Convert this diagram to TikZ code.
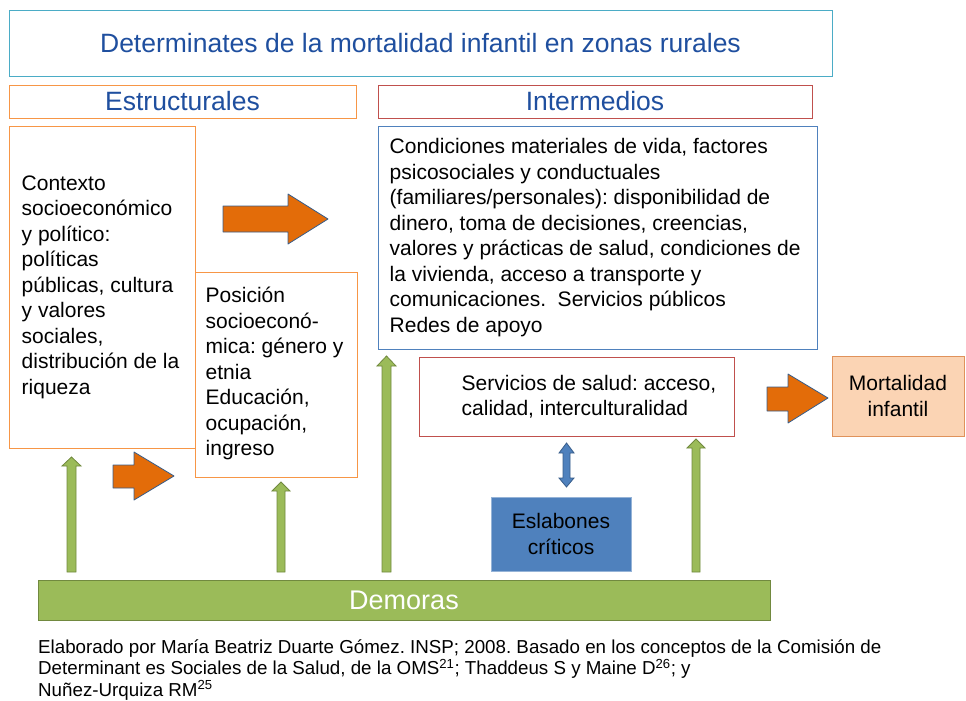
\documentclass[tikz,border=0pt]{standalone}
\usepackage{fontspec}
\setmainfont{Liberation Sans}
\usepackage{tikz}
\usetikzlibrary{positioning}
\definecolor{cielo}{HTML}{4BACC6}
\definecolor{tituloazul}{HTML}{1F4F9F}
\definecolor{naranja}{HTML}{F79646}
\definecolor{rojo}{HTML}{C0504D}
\definecolor{azul}{HTML}{4F81BD}
\definecolor{azulclaro}{HTML}{95B3D7}
\definecolor{contorno}{HTML}{385D8A}
\definecolor{flecha}{HTML}{E36C09}
\definecolor{verde}{HTML}{9BBB59}
\definecolor{verdeosc}{HTML}{71893F}
\definecolor{durazno}{HTML}{FBD4B4}
\definecolor{duraznobd}{HTML}{E0925B}
\frenchspacing

\begin{document}
\begin{tikzpicture}[x=1pt,y=-1pt,
    caja/.style={draw, line width=1pt, fill=white, inner sep=0pt},
    cuerpo/.style={font=\fontsize{21}{25.5}\selectfont, align=left, inner sep=0pt},
    encabezado/.style={font=\fontsize{26.5}{30}\selectfont, text=tituloazul},
    flechanar/.style={fill=flecha, draw=contorno, line width=0.8pt, line join=round},
    flechaver/.style={fill=verde, draw=verdeosc, line width=0.8pt},
    flechaazu/.style={fill=azul, draw=contorno, line width=0.8pt}]
    \useasboundingbox (0,0) rectangle (966,701);

    % encabezados
    \node[caja, draw=cielo, encabezado, minimum width=823pt, minimum height=65pt] (titulo) at (420.5,43.5)
        {Determinates de la mortalidad infantil en zonas rurales};
    \node[caja, draw=naranja, encabezado, minimum width=347pt, minimum height=33pt] (estr) at (182.5,101.5) {Estructurales};
    \node[caja, draw=rojo, encabezado, minimum width=434pt, minimum height=33pt] (inter) at (595,101.5) {Intermedios};

    % determinantes estructurales
    \node[caja, draw=naranja, minimum width=186pt, minimum height=322pt] (contexto) at (102,287) {};
    \node[cuerpo, anchor=west] (contexto-txt) at ([xshift=13pt]contexto.west)
        {Contexto\\ socioeconómico\\ y político:\\ políticas\\ públicas, cultura\\ y valores\\ sociales,\\ distribución de la\\ riqueza};
    \node[caja, draw=naranja, minimum width=162pt, minimum height=205pt] (posicion) at (276,374.5) {};
    \node[cuerpo, anchor=west] (posicion-txt) at ([xshift=11pt, yshift=1pt]posicion.west)
        {Posición\\ socioeconó-\\ mica: género y\\ etnia\\ Educación,\\ ocupación,\\ ingreso};

    % determinantes intermedios
    \node[caja, draw=azul, minimum width=439pt, minimum height=223pt] (condiciones) at (597.5,237.5) {};
    \node[cuerpo, anchor=west] (condiciones-txt) at ([xshift=12pt]condiciones.west)
        {Condiciones materiales de vida, factores\\ psicosociales y conductuales\\ (familiares/personales): disponibilidad de\\ dinero, toma de decisiones, creencias,\\ valores y prácticas de salud, condiciones de\\ la vivienda, acceso a transporte y\\ comunicaciones.~ Servicios públicos\\ Redes de apoyo};
    \node[caja, draw=rojo, minimum width=315pt, minimum height=79pt] (servicios) at (576.5,396.5) {};
    \node[cuerpo, anchor=west] (servicios-txt) at ([xshift=43pt]servicios.west)
        {Servicios de salud: acceso,\\ calidad, interculturalidad};
    \node[caja, draw=duraznobd, fill=durazno, cuerpo, align=center, minimum width=132pt, minimum height=80pt] (mortalidad) at (898,396)
        {Mortalidad\\ infantil};
    \node[caja, draw=azulclaro, fill=azul, cuerpo, align=center, minimum width=140pt, minimum height=74pt] (eslabones) at (561,534)
        {Eslabones\\ críticos};
    \node[draw=verdeosc, fill=verde, line width=0.6pt, font=\fontsize{27}{30}\selectfont, text=white, minimum width=732pt, minimum height=40pt] (demoras) at (404,600)
        {\raisebox{-2pt}{Demoras}};

    % flechas naranjas
    \draw[flechanar] (223,206) -- (288,206) -- (288,194) -- (328,219) -- (288,244) -- (288,232) -- (223,232) -- cycle;
    \draw[flechanar] (113,465) -- (134,465) -- (134,452) -- (174,476) -- (134,500) -- (134,488) -- (113,488) -- cycle;
    \draw[flechanar] (767,387) -- (788,387) -- (788,374) -- (828,398) -- (788,423) -- (788,411) -- (767,411) -- cycle;

    % flechas verdes
    \draw[flechaver] (67,572) -- (67,466) -- (62,466) -- (71.5,457) -- (81,466) -- (76,466) -- (76,572) -- cycle;
    \draw[flechaver] (277,572) -- (277,491) -- (272,491) -- (281,482) -- (290,491) -- (285,491) -- (285,572) -- cycle;
    \draw[flechaver] (382,572) -- (382,366) -- (377,366) -- (386.5,356) -- (396,366) -- (391,366) -- (391,572) -- cycle;
    \draw[flechaver] (692,572) -- (692,448) -- (687,448) -- (696,439) -- (705,448) -- (700,448) -- (700,572) -- cycle;

    % flecha doble
    \draw[flechaazu] (563,453) -- (559,453) -- (566.5,443) -- (574,453) -- (570,453) -- (570,478) -- (574,478) -- (566.5,487) -- (559,478) -- (563,478) -- cycle;

    % fuente
    \node[anchor=north west, inner sep=0pt, align=left, font=\fontsize{18.75}{21.5}\selectfont] (fuente) at (38,639)
        {Elaborado por María Beatriz Duarte Gómez. INSP; 2008. Basado en los conceptos de la Comisión de\\ Determinant es Sociales de la Salud, de la OMS\textsuperscript{21}; Thaddeus S y Maine D\textsuperscript{26}; y\\ Nuñez-Urquiza RM\textsuperscript{25}};
\end{tikzpicture}
\end{document}
